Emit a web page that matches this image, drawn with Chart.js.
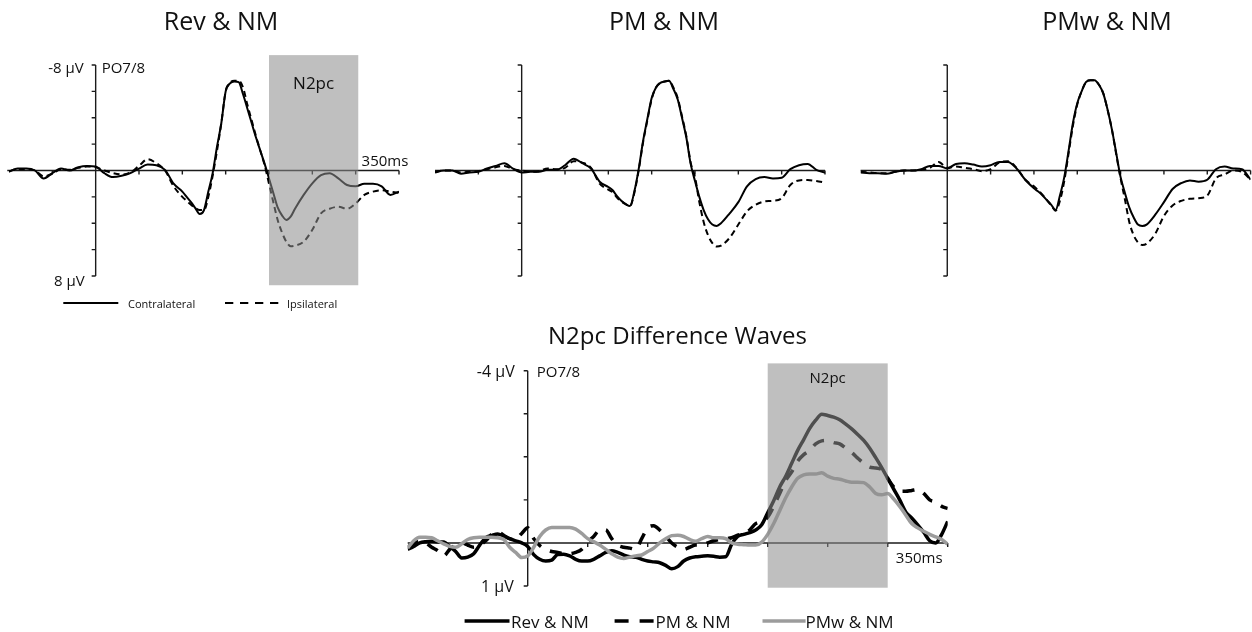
<!DOCTYPE html>
<html><head><meta charset="utf-8">
<script src="https://cdn.jsdelivr.net/npm/chart.js@4.4.1/dist/chart.umd.min.js"></script>
<style>
html,body{margin:0;padding:0;background:#fff;}
#wrap{position:relative;width:1252px;height:632px;overflow:hidden;font-family:"Open Sans",sans-serif;color:#111;}
#wrap canvas{position:absolute;left:0;top:0;}
.t{position:absolute;white-space:nowrap;line-height:1;}
svg{position:absolute;left:0;top:0;}
</style></head><body><div id="wrap"></div>
<script>
// ---------- DATA ----------
const titles = ["Rev & NM", "PM & NM", "PMw & NM"];
const bottomTitle = "N2pc Difference Waves";
const topLegend = ["Contralateral", "Ipsilateral"];
const bottomLegend = ["Rev & NM", "PM & NM", "PMw & NM"];
const topYLabels = ["-8 µV", "8 µV"];
const bottomYLabels = ["-4 µV", "1 µV"];
const electrode = "PO7/8";
const timeLabel = "350ms";
const windowLabel = "N2pc";
const n2pcWindowTop = [200, 303];
const n2pcWindowBottom = [200, 300];
const topYTicks = [-8, -6, -4, -2, 0, 2, 4, 6, 8];
const bottomYTicks = [-4, -3, -2, -1, 0, 1];
const xTicks = [-50, 50, 100, 150, 200, 250, 300, 350];

const topTime = [-100,-90,-80,-70,-60,-50,-40,-30,-20,-10,0,10,20,30,40,50,60,70,80,90,100,
  105,110,115,120,125,130,135,140,145,150,155,160,165,170,175,180,185,190,195,200,205,210,215,220,225,230,
  240,250,260,270,280,290,300,310,320,330,340,350];

const revContra = [0.1,-0.15,-0.15,0.0,0.6,0.2,-0.15,0.0,-0.25,-0.35,-0.3,0.2,0.5,0.4,0.2,-0.15,-0.45,-0.4,-0.05,1.0,1.6,
  2.0,2.4,2.85,3.3,3.0,1.6,0.2,-1.8,-3.6,-6.0,-6.6,-6.75,-6.7,-5.8,-4.7,-3.6,-2.5,-1.5,-0.5,0.6,1.7,2.8,3.4,3.75,3.5,2.9,
  1.85,0.97,0.35,0.2,0.6,1.1,1.2,1.0,1.0,1.2,1.85,1.6];
const revIpsi = [0.05,-0.1,-0.1,0.0,0.45,0.25,-0.1,-0.05,-0.2,-0.3,-0.25,0.0,0.2,0.3,0.15,-0.35,-0.85,-0.55,0.0,1.2,2.0,
  2.3,2.6,2.85,3.0,3.0,2.0,0.4,-1.5,-3.6,-6.0,-6.65,-6.8,-6.8,-6.3,-5.0,-3.8,-2.6,-1.5,-0.4,1.0,2.4,3.75,4.7,5.4,5.75,5.7,
  5.4,4.5,3.25,2.9,2.75,2.9,2.5,1.85,1.6,1.5,1.6,1.7];
const pmContra = [0.15,0.0,0.0,0.25,0.15,0.1,-0.15,-0.35,-0.55,-0.15,0.15,0.1,0.1,-0.05,-0.05,-0.4,-0.9,-0.55,-0.15,0.85,1.25,
  1.5,1.95,2.3,2.55,2.7,1.6,-0.1,-2.2,-3.9,-5.5,-6.3,-6.65,-6.75,-6.8,-6.2,-5.4,-4.0,-2.5,-0.5,0.8,2.0,3.0,3.7,4.1,4.2,4.0,
  3.25,2.4,1.2,0.65,0.5,0.6,0.55,-0.1,-0.4,-0.5,-0.05,0.15];
const pmIpsi = [0.1,0.0,0.0,0.15,0.1,0.05,-0.1,-0.25,-0.35,-0.1,0.0,0.1,0.05,-0.15,-0.1,-0.2,-0.7,-0.6,-0.2,1.0,1.45,
  1.65,2.05,2.35,2.55,2.7,1.7,0.0,-2.1,-3.8,-5.4,-6.3,-6.65,-6.75,-6.8,-6.3,-5.5,-4.1,-2.6,-0.6,0.5,2.4,3.9,4.9,5.5,5.77,5.7,
  5.1,4.1,3.1,2.6,2.35,2.3,2.1,1.1,0.75,0.72,0.8,0.92];
const pmwContra = [0.15,0.2,0.2,0.25,0.1,0.0,0.0,-0.1,-0.35,-0.35,-0.15,-0.5,-0.55,-0.45,-0.3,-0.4,-0.65,-0.65,-0.15,0.7,1.35,
  1.6,1.9,2.25,2.6,3.0,1.9,0.5,-1.5,-3.6,-5.1,-6.0,-6.7,-6.85,-6.85,-6.5,-5.85,-4.6,-3.1,-1.3,0.5,1.7,2.8,3.55,4.1,4.2,4.1,
  3.35,2.4,1.4,0.95,0.75,0.85,0.7,-0.1,-0.3,-0.15,-0.1,0.7];
const pmwIpsi = [0.1,0.15,0.2,0.2,0.1,0.0,0.0,-0.05,-0.2,-0.65,-0.2,-0.3,-0.2,-0.1,0.05,-0.1,-0.6,-0.7,-0.2,0.7,1.2,
  1.5,1.85,2.25,2.65,3.05,2.3,0.8,-1.3,-3.4,-5.0,-6.0,-6.7,-6.85,-6.85,-6.5,-5.85,-4.6,-3.1,-1.2,0.6,2.2,3.9,4.9,5.45,5.65,5.55,
  4.8,3.45,2.65,2.3,2.15,2.1,1.9,0.6,0.3,0.0,0.1,0.7];

const botTime = [-100,-95,-90,-85,-80,-75,-70,-65,-60,-55,-50,-45,-40,-35,-30,-25,-20,-15,-10,-5,
  0,5,10,15,20,25,30,35,40,45,50,55,60,65,70,75,80,85,90,95,100,105,110,115,120,125,130,135,140,145,
  150,155,160,165,170,175,180,185,190,195,200,205,210,215,220,225,230,235,240,245,250,255,260,265,270,275,280,285,290,295,
  300,305,310,315,320,325,330,335,340,345,350];
const diffRev = [0.15,0.08,0.0,-0.03,-0.04,-0.03,-0.02,0.08,0.2,0.35,
  0.33,0.25,0.05,-0.12,-0.17,-0.21,-0.16,-0.1,-0.05,0.0,
  0.08,0.27,0.38,0.42,0.4,0.27,0.26,0.3,0.38,0.42,
  0.42,0.38,0.3,0.22,0.18,0.22,0.28,0.32,0.33,0.38,
  0.42,0.44,0.46,0.52,0.6,0.55,0.42,0.35,0.32,0.31,
  0.3,0.31,0.33,0.32,0.03,-0.15,-0.2,-0.24,-0.3,-0.42,
  -0.7,-0.98,-1.3,-1.55,-1.85,-2.15,-2.4,-2.66,-2.85,-2.99,
  -2.96,-2.92,-2.86,-2.76,-2.65,-2.52,-2.38,-2.2,-1.98,-1.75,
  -1.5,-1.25,-1.0,-0.72,-0.58,-0.42,-0.25,-0.05,0.0,-0.2,
  -0.5];
const diffPM = [0.1,0.0,-0.03,0.0,0.1,0.18,0.3,0.15,0.05,0.0,
  0.05,0.1,0.05,-0.05,-0.2,-0.25,-0.18,-0.1,-0.1,-0.22,
  -0.35,-0.1,0.06,0.15,0.2,0.22,0.25,0.25,0.22,0.15,
  -0.02,-0.15,-0.3,-0.3,-0.1,0.05,0.1,0.12,0.15,-0.1,
  -0.35,-0.4,-0.3,-0.15,0.0,0.1,0.15,0.1,0.05,0.05,
  0.0,-0.05,-0.08,-0.1,-0.12,-0.18,-0.22,-0.3,-0.45,-0.5,
  -0.6,-0.85,-1.15,-1.45,-1.65,-1.9,-2.05,-2.15,-2.3,-2.37,
  -2.38,-2.33,-2.3,-2.2,-2.1,-1.97,-1.85,-1.76,-1.74,-1.7,
  -1.5,-1.3,-1.2,-1.2,-1.22,-1.24,-1.15,-1.0,-0.95,-0.85,
  -0.8];
const diffPMw = [0.12,-0.05,-0.13,-0.13,-0.12,-0.05,0.02,0.08,0.1,0.02,
  -0.08,-0.12,-0.13,-0.13,-0.13,-0.12,-0.08,0.1,0.22,0.34,
  0.3,0.1,-0.15,-0.3,-0.36,-0.36,-0.36,-0.36,-0.32,-0.22,
  -0.1,-0.03,0.05,0.15,0.25,0.33,0.36,0.33,0.3,0.28,
  0.2,0.12,0.0,-0.1,-0.17,-0.18,-0.15,-0.08,-0.04,-0.1,
  -0.15,-0.12,-0.12,-0.1,0.0,0.03,0.04,0.05,0.05,-0.02,
  -0.2,-0.45,-0.75,-1.05,-1.3,-1.5,-1.58,-1.6,-1.6,-1.63,
  -1.55,-1.5,-1.48,-1.44,-1.41,-1.41,-1.4,-1.3,-1.15,-1.12,
  -1.15,-1.02,-0.85,-0.65,-0.45,-0.35,-0.27,-0.2,-0.14,-0.08,
  0.03];

// ---------- RENDER ----------
const W = 1252, H = 632;
const wrap = document.getElementById('wrap');

function pts(t, v){ return t.map((x,i)=>({x:x, y:v[i]})); }

const decor = {
  id: 'decor',
  beforeDatasetsDraw(chart, args, o){
    const {ctx} = chart; const x = chart.scales.x, y = chart.scales.y;
    const y0 = y.getPixelForValue(0), x0 = x.getPixelForValue(0);
    ctx.save();
    ctx.strokeStyle = '#1b1b1b'; ctx.lineWidth = o.axisWidth; ctx.setLineDash([]);
    ctx.beginPath();
    ctx.moveTo(x.getPixelForValue(o.xFrom), y0); ctx.lineTo(x.getPixelForValue(o.xTo), y0);
    ctx.moveTo(x0, y.getPixelForValue(o.yTicks[0])); ctx.lineTo(x0, y.getPixelForValue(o.yTicks[o.yTicks.length-1]));
    o.xTicks.forEach(t=>{ const p = x.getPixelForValue(t); ctx.moveTo(p, y0); ctx.lineTo(p, y0 + o.tick); });
    o.yTicks.forEach(t=>{ if(t===0) return; const p = y.getPixelForValue(t); ctx.moveTo(x0, p); ctx.lineTo(x0 - o.tick, p); });
    ctx.stroke();
    ctx.restore();
  },
  afterDatasetsDraw(chart, args, o){
    if(!o.shade) return;
    const {ctx} = chart; const x = chart.scales.x, y = chart.scales.y;
    const l = x.getPixelForValue(o.shade[0]), r = x.getPixelForValue(o.shade[1]);
    const t = y.getPixelForValue(o.shadeY[0]), b = y.getPixelForValue(o.shadeY[1]);
    ctx.save();
    ctx.fillStyle = 'rgba(140,140,140,0.56)';
    ctx.fillRect(l, t, r - l, b - t);
    ctx.restore();
  }
};

function makeChart(area, yMin, yMax, datasets, deco){
  const c = document.createElement('canvas');
  c.width = W; c.height = H; c.style.width = W+'px'; c.style.height = H+'px';
  wrap.appendChild(c);
  return new Chart(c, {
    type: 'line',
    data: { datasets },
    plugins: [decor],
    options: {
      responsive: false, animation: false, devicePixelRatio: 1,
      layout: { padding: { left: area.l, right: W - area.r, top: area.t, bottom: H - area.b } },
      scales: {
        x: { type: 'linear', min: -100, max: 350, display: false },
        y: { type: 'linear', min: yMin, max: yMax, reverse: true, display: false }
      },
      elements: { point: { radius: 0 }, line: { cubicInterpolationMode: 'monotone', borderCapStyle: 'butt' } },
      plugins: { legend: { display: false }, tooltip: { enabled: false }, decor: deco }
    }
  });
}

function txt(s, x, y, size, anchor){
  const d = document.createElement('div'); d.className = 't'; d.textContent = s;
  d.style.fontSize = size + 'px'; d.style.left = x + 'px'; d.style.top = y + 'px';
  const tx = anchor === 'r' ? '-100%' : anchor === 'c' ? '-50%' : '0';
  d.style.transform = 'translate(' + tx + ',-50%)';
  wrap.appendChild(d);
}

const topPanels = [
  { area: {l: 9.0, r: 399.0, t: 65, b: 276}, contra: revContra, ipsi: revIpsi, xFrom: -102, full: true },
  { area: {l: 435.0, r: 825.0, t: 65, b: 276}, contra: pmContra, ipsi: pmIpsi, xFrom: -100 },
  { area: {l: 860.6, r: 1250.6, t: 65, b: 276}, contra: pmwContra, ipsi: pmwIpsi, xFrom: -100 }
];
const titleX = [221, 664, 1107];

topPanels.forEach((p, i)=>{
  const ch = makeChart(p.area, -8, 8, [
    { data: pts(topTime, p.contra), borderColor: '#000', borderWidth: 2, fill: false },
    { data: pts(topTime, p.ipsi), borderColor: '#000', borderWidth: 2, borderDash: [6, 4], fill: false }
  ], { axisWidth: 1.4, tick: 4, xFrom: p.xFrom, xTo: 350, xTicks: xTicks, yTicks: topYTicks,
       shade: p.full ? n2pcWindowTop : null, shadeY: [-8.75, 8.7] });
  txt(titles[i], titleX[i], 19.5, 25, 'c');
  if(p.full){
    const x = ch.scales.x, y = ch.scales.y;
    const x0 = x.getPixelForValue(0);
    txt(topYLabels[0], x0 - 12, y.getPixelForValue(-8) + 2, 15, 'r');
    txt(electrode, x0 + 6, y.getPixelForValue(-8) + 2, 15, 'l');
    txt(topYLabels[1], x0 - 11, y.getPixelForValue(8) + 4, 15, 'r');
    txt(timeLabel, x.getPixelForValue(350) - 14, y.getPixelForValue(0) - 10.5, 15, 'c');
    txt(windowLabel, (x.getPixelForValue(n2pcWindowTop[0]) + x.getPixelForValue(n2pcWindowTop[1])) / 2, 82, 17, 'c');
  }
});

const bch = makeChart({l: 407.7, r: 947.7, t: 370.7, b: 586}, -4, 1, [
  { data: pts(botTime, diffRev), borderColor: '#000', borderWidth: 3.5, fill: false, order: 3 },
  { data: pts(botTime, diffPM), borderColor: '#000', borderWidth: 3.5, borderDash: [12, 10], fill: false, order: 2 },
  { data: pts(botTime, diffPMw), borderColor: '#9c9c9c', borderWidth: 3.5, fill: false, order: 1 }
], { axisWidth: 1.4, tick: 4, xFrom: -100, xTo: 350, xTicks: xTicks, yTicks: bottomYTicks,
     shade: n2pcWindowBottom, shadeY: [-4.17, 1.04] });
(function(){
  const x = bch.scales.x, y = bch.scales.y; const x0 = x.getPixelForValue(0);
  txt(bottomTitle, 677.5, 335, 24, 'c');
  txt(bottomYLabels[0], x0 - 13, y.getPixelForValue(-4), 16, 'r');
  txt(electrode, x0 + 9, y.getPixelForValue(-4), 15, 'l');
  txt(bottomYLabels[1], x0 - 14, y.getPixelForValue(1), 16, 'r');
  txt(timeLabel, x.getPixelForValue(350) - 28.5, y.getPixelForValue(0) + 14, 15, 'c');
  txt(windowLabel, (x.getPixelForValue(n2pcWindowBottom[0]) + x.getPixelForValue(n2pcWindowBottom[1])) / 2, 377, 15, 'c');
})();

// legends
const svgNS = 'http://www.w3.org/2000/svg';
const svg = document.createElementNS(svgNS, 'svg');
svg.setAttribute('width', W); svg.setAttribute('height', H);
function ln(x1, x2, y, w, color, dash){
  const l = document.createElementNS(svgNS, 'line');
  l.setAttribute('x1', x1); l.setAttribute('x2', x2); l.setAttribute('y1', y); l.setAttribute('y2', y);
  l.setAttribute('stroke', color); l.setAttribute('stroke-width', w);
  if(dash) l.setAttribute('stroke-dasharray', dash);
  svg.appendChild(l);
}
ln(63.3, 118.3, 303, 2, '#000');
ln(225, 279, 303, 2, '#000', '8.3 6.7');
ln(464.6, 509.5, 621, 3.5, '#000');
ln(614.6, 654, 621, 3.5, '#000', '14 11');
ln(762.5, 805.6, 621, 3.5, '#9c9c9c');
wrap.appendChild(svg);
txt(topLegend[0], 128, 303, 11, 'l');
txt(topLegend[1], 287, 303, 11, 'l');
txt(bottomLegend[0], 511, 621, 17, 'l');
txt(bottomLegend[1], 655.6, 621, 17, 'l');
txt(bottomLegend[2], 805.6, 621, 17, 'l');
</script></body></html>
